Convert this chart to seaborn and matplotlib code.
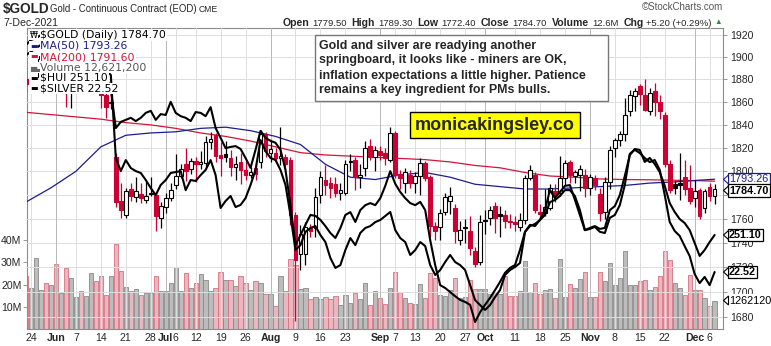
import numpy as np
import pandas as pd
import matplotlib
matplotlib.use("Agg")
import matplotlib.pyplot as plt
import seaborn as sns
from matplotlib.patches import Rectangle, Polygon
from matplotlib.ticker import FixedLocator, FixedFormatter, NullLocator

sns.set_style("white")
plt.rcParams['font.family'] = ['Liberation Sans', 'DejaVu Sans']

# ---------------- data ----------------
holidays = ["2021-05-31", "2021-07-05", "2021-09-06", "2021-11-25"]
dates = pd.bdate_range("2021-05-21", "2021-12-07")
dates = dates[~dates.isin(pd.to_datetime(holidays))]

opens = [1880, 1876, 1882, 1898, 1901, 1895, 1906, 1902, 1908, 1872, 1891, 1898, 1894, 1896, 1900, 1877, 1866, 1859,
         1812, 1775, 1763, 1785, 1778, 1781, 1776, 1782, 1780, 1761, 1770, 1777, 1788, 1796, 1806, 1802, 1809, 1806,
         1807, 1825, 1831, 1814, 1815, 1811, 1804, 1808, 1801, 1797, 1803, 1808, 1832, 1816, 1816, 1811, 1812, 1810,
         1763, 1731, 1731, 1752, 1752, 1780, 1793, 1790, 1789, 1782, 1782, 1809, 1810, 1795, 1803, 1822, 1812, 1817,
         1816, 1810, 1833, 1798, 1790, 1797, 1790, 1796, 1807, 1795, 1754, 1753, 1766, 1775, 1769, 1742, 1753, 1750,
         1733, 1724, 1759, 1761, 1771, 1764, 1763, 1758, 1757, 1753, 1759, 1794, 1797, 1766, 1765, 1769, 1783, 1782,
         1794, 1808, 1796, 1797, 1797, 1786, 1794, 1781, 1766, 1791, 1820, 1827, 1832, 1852, 1865, 1874, 1866, 1852,
         1870, 1860, 1849, 1806, 1789, 1790, 1795, 1786, 1777, 1784, 1769, 1787, 1779.5]
highs = [1890, 1889, 1900, 1913, 1903, 1910, 1919, 1915, 1912, 1895, 1902, 1904, 1903, 1903, 1902, 1880, 1870, 1862,
         1816, 1790, 1786, 1790, 1795, 1790, 1792, 1795, 1782, 1774, 1782, 1790, 1815, 1806, 1820, 1811, 1812, 1817,
         1830, 1834, 1833, 1825, 1826, 1818, 1813, 1816, 1810, 1804, 1808, 1836, 1834, 1826, 1820, 1838, 1815, 1812,
         1766, 1755, 1757, 1756, 1786, 1800, 1805, 1795, 1795, 1790, 1810, 1815, 1812, 1806, 1826, 1828, 1822, 1822,
         1820, 1838, 1835, 1801, 1803, 1801, 1799, 1811, 1809, 1797, 1757, 1768, 1782, 1787, 1772, 1758, 1760, 1762,
         1737, 1763, 1767, 1771, 1774, 1771, 1767, 1764, 1762, 1765, 1797, 1805, 1799, 1772, 1785, 1789, 1789, 1813,
         1810, 1810, 1801, 1805, 1802, 1798, 1797, 1786, 1795, 1822, 1829, 1835, 1864, 1871, 1872, 1876, 1880, 1872,
         1877, 1866, 1851, 1810, 1792, 1816, 1810, 1805, 1793, 1786, 1785, 1790, 1789.3]
lows = [1868, 1873, 1878, 1892, 1886, 1885, 1898, 1895, 1856, 1855, 1885, 1888, 1884, 1878, 1872, 1855, 1846, 1854,
        1770, 1761, 1761, 1775, 1774, 1773, 1773, 1779, 1750, 1752, 1765, 1775, 1785, 1794, 1792, 1798, 1791, 1802,
        1804, 1819, 1808, 1796, 1808, 1796, 1793, 1789, 1793, 1794, 1793, 1803, 1812, 1808, 1808, 1805, 1799, 1755,
        1677, 1718, 1722, 1745, 1745, 1773, 1780, 1777, 1778, 1776, 1780, 1800, 1784, 1786, 1796, 1810, 1800, 1810,
        1805, 1808, 1794, 1785, 1782, 1786, 1782, 1780, 1792, 1745, 1742, 1742, 1763, 1764, 1740, 1738, 1740, 1730,
        1720, 1722, 1747, 1755, 1748, 1745, 1752, 1752, 1750, 1750, 1756, 1793, 1765, 1760, 1762, 1767, 1774, 1779,
        1788, 1790, 1790, 1783, 1778, 1780, 1784, 1758, 1760, 1785, 1812, 1822, 1826, 1848, 1852, 1857, 1852, 1849,
        1848, 1845, 1804, 1782, 1781, 1776, 1780, 1772, 1770, 1760, 1765, 1775, 1772.4]
closes = [1876, 1882, 1898, 1901, 1895, 1903, 1902, 1908, 1872, 1891, 1898, 1894, 1896, 1900, 1877, 1866, 1856, 1860,
          1774, 1767, 1783, 1779, 1783, 1777, 1779, 1781, 1762, 1771, 1777, 1784, 1796, 1802, 1800, 1809, 1806, 1808,
          1825, 1828, 1813, 1811, 1812, 1804, 1806, 1801, 1797, 1799, 1798, 1832, 1817, 1819, 1811, 1813, 1806, 1763,
          1726, 1747, 1753, 1750, 1778, 1795, 1788, 1786, 1782, 1784, 1806, 1808, 1795, 1797, 1820, 1812, 1818, 1814,
          1811, 1833, 1797, 1794, 1799, 1790, 1796, 1807, 1794, 1754, 1750, 1765, 1778, 1779, 1750, 1751, 1752, 1736,
          1723, 1757, 1758, 1767, 1761, 1762, 1758, 1757, 1756, 1759, 1794, 1801, 1767, 1764, 1770, 1786, 1780, 1794,
          1807, 1797, 1799, 1802, 1786, 1795, 1788, 1765, 1791, 1818, 1827, 1832, 1849, 1866, 1870, 1867, 1853, 1868,
          1860, 1852, 1806, 1784, 1786, 1788, 1785, 1775, 1783, 1762, 1783, 1779.5, 1784.7]
volume_m = [23.6, 18.6, 31.8, 17.7, 20.9, 19.9, 29.0, 16.3, 27.6, 23.1, 14.4, 17.3, 14.9, 25.0, 21.8, 24.0, 15.4, 23.6,
            38.2, 25.9, 19.0, 17.3, 18.0, 15.4, 16.3, 16.3, 23.6, 17.3, 17.3, 20.9, 27.7, 17.3, 25.0, 18.6, 20.5, 24.5,
            22.2, 17.3, 18.6, 25.4, 22.2, 22.2, 19.5, 23.6, 20.5, 17.7, 21.4, 20.9, 15.9, 15.9, 10.5, 24.0, 17.3, 31.4,
            28.6, 18.0, 18.6, 13.6, 14.5, 13.6, 14.5, 13.6, 15.0, 10.9, 15.4, 11.8, 16.3, 13.6, 20.5, 10.9, 17.3, 14.0,
            11.4, 18.6, 25.4, 16.5, 13.8, 11.5, 11.4, 20.1, 14.1, 25.2, 22.7, 15.3, 14.8, 17.6, 22.7, 13.8, 14.4, 22.1,
            18.2, 17.9, 17.9, 15.6, 16.7, 15.6, 23.8, 14.8, 14.8, 17.0, 30.5, 16.5, 20.9, 15.6, 17.4, 17.9, 14.1, 31.5,
            14.4, 20.1, 18.6, 22.4, 25.7, 14.4, 14.4, 25.6, 21.8, 29.7, 20.0, 23.0, 35.1, 20.0, 20.0, 21.8, 22.0, 17.5,
            18.7, 23.7, 34.9, 30.9, 20.9, 18.5, 15.2, 24.3, 17.6, 17.4, 14.0, 10.5, 12.6212]
hui = [332.0, 334.1, 334.9, 336.2, 334.1, 332.0, 333.2, 334.1, 327.7, 329.8, 330.7, 329.0, 327.7, 329.8, 325.6, 323.4,
       321.3, 319.2, 283.9, 278.3, 283.0, 279.6, 278.3, 277.5, 274.5, 271.1, 268.1, 272.4, 274.5, 277.5, 277.9, 278.3,
       270.2, 274.5, 274.1, 276.6, 278.8, 283.0, 276.6, 262.6, 265.6, 267.7, 263.0, 263.9, 266.8, 272.4, 278.8, 291.5,
       286.8, 283.9, 283.0, 278.8, 272.4, 259.6, 244.7, 246.8, 252.4, 254.1, 254.9, 251.1, 248.1, 241.3, 237.1, 238.3,
       244.7, 249.8, 246.8, 252.0, 254.1, 254.9, 256.6, 257.5, 259.2, 260.9, 253.2, 249.8, 248.1, 242.6, 244.7, 248.1,
       246.4, 238.3, 234.1, 236.2, 239.6, 242.6, 239.6, 238.3, 236.2, 229.8, 223.4, 221.3, 219.2, 221.3, 224.7, 227.7,
       234.1, 236.2, 237.5, 239.2, 252.4, 254.9, 255.8, 257.5, 259.6, 265.1, 266.0, 267.7, 270.2, 270.2, 267.7, 261.7,
       253.2, 254.1, 254.9, 253.7, 254.1, 261.7, 263.4, 268.1, 276.2, 285.1, 287.7, 287.3, 282.2, 283.9, 281.3, 277.9,
       272.0, 264.7, 260.9, 257.9, 256.2, 253.2, 247.7, 242.2, 244.7, 248.1, 251.1]
silver = [27.81, 27.89, 27.98, 28.06, 27.93, 27.93, 27.89, 27.98, 27.57, 27.81, 27.93, 27.81, 27.74, 27.89, 27.69,
          27.50, 27.32, 26.96, 26.03, 26.18, 26.23, 26.28, 26.20, 26.28, 26.40, 26.45, 26.23, 26.37, 26.35, 26.67,
          26.40, 26.32, 26.28, 26.20, 26.42, 26.40, 26.32, 26.54, 26.03, 25.79, 25.54, 25.57, 25.59, 25.52, 25.30,
          25.06, 25.50, 25.96, 25.79, 25.72, 25.67, 25.50, 25.01, 24.15, 23.18, 23.42, 23.67, 23.91, 23.89, 23.79,
          23.64, 23.47, 23.35, 23.59, 23.91, 23.98, 23.74, 24.03, 24.15, 24.20, 24.15, 24.32, 24.62, 24.98, 24.67,
          24.47, 24.32, 24.20, 24.15, 24.23, 24.03, 23.30, 22.69, 22.20, 22.13, 22.03, 21.93, 21.84, 21.79, 21.72,
          21.30, 21.54, 21.72, 21.89, 22.08, 22.28, 22.50, 22.62, 22.69, 23.06, 23.50, 23.67, 23.64, 23.79, 24.03,
          24.52, 24.32, 24.47, 24.62, 24.64, 24.28, 23.91, 23.54, 23.57, 23.62, 23.50, 23.47, 23.84, 23.91, 24.15,
          24.64, 25.40, 25.50, 25.42, 25.30, 25.20, 25.25, 25.01, 24.40, 23.74, 23.52, 23.40, 23.15, 22.91, 22.47,
          22.25, 22.40, 22.20, 22.52]
ma_dates = ["2021-05-21", "2021-05-28", "2021-06-07", "2021-06-14", "2021-06-21", "2021-06-28", "2021-07-06",
            "2021-07-13", "2021-07-20", "2021-07-27", "2021-08-03", "2021-08-10", "2021-08-17", "2021-08-24",
            "2021-08-31", "2021-09-08", "2021-09-15", "2021-09-22", "2021-09-29", "2021-10-06", "2021-10-13",
            "2021-10-20", "2021-10-27", "2021-11-03", "2021-11-10", "2021-11-17", "2021-11-24", "2021-12-02",
            "2021-12-07"]
ma50 = [1774, 1786, 1800, 1821, 1831, 1833, 1834, 1837, 1838, 1835, 1830, 1823, 1806, 1795, 1793, 1797, 1799,
        1795, 1789, 1787, 1785, 1785, 1786, 1787, 1788, 1790, 1791, 1792.5, 1793.26]
ma200 = [1851, 1849, 1847, 1845, 1842, 1840, 1837, 1833, 1830, 1826, 1821, 1816, 1814, 1813, 1812, 1811, 1810,
         1808, 1805, 1803, 1799, 1796, 1795, 1793.5, 1793, 1792.8, 1792.4, 1792, 1791.6]

tick_dates = ["2021-05-24", "2021-06-01", "2021-06-07", "2021-06-14", "2021-06-21", "2021-06-28", "2021-07-01",
              "2021-07-06", "2021-07-12", "2021-07-19", "2021-07-26", "2021-08-02", "2021-08-09", "2021-08-16",
              "2021-08-23", "2021-09-01", "2021-09-07", "2021-09-13", "2021-09-20", "2021-09-27", "2021-10-01",
              "2021-10-11", "2021-10-18", "2021-10-25", "2021-11-01", "2021-11-08", "2021-11-15", "2021-11-22",
              "2021-12-01", "2021-12-06"]
tick_labels = ["24", "Jun", "7", "14", "21", "28", "Jul", "6", "12", "19", "26", "Aug", "9", "16", "23", "Sep",
               "7", "13", "20", "27", "Oct", "11", "18", "25", "Nov", "8", "15", "22", "Dec", "6"]
price_ticks = [1680, 1700, 1720, 1740, 1760, 1780, 1800, 1820, 1840, 1860, 1880, 1900, 1920]
vol_ticks_m = [10, 20, 30, 40]

note_lines = ["Gold and silver are readying another",
              "springboard, it looks like - miners are OK,",
              "inflation expectations a little higher. Patience",
              "remains a key ingredient for PMs bulls."]
site = "monicakingsley.co"

# ---------------- figure ----------------
W, H = 771, 346
RED = "#cc0033"
NAVY = "#1c1c8e"
MARED = "#d4143c"
fig = plt.figure(figsize=(W / 100, H / 100), dpi=100)
fig.patch.set_facecolor("white")


def fx(x):
    return x / W


def fy(y):
    return 1 - y / H


n = len(dates)
pos = np.arange(n)
O, Hh, L, C = map(np.array, (opens, highs, lows, closes))
prev = np.r_[O[0], C[:-1]]
up = C >= prev
col = np.where(up, "#000000", RED)
hollow = C > O

axv = fig.add_axes([fx(27), fy(329), (723 - 27) / W, (329 - 28) / H])
axv.set_xlim(0.2, 139.68)
axv.set_ylim(0, 135.3e6)
vol = np.array(volume_m) * 1e6
vfill = np.where(up, "#bcbcbc", "#e9b7c0")
vedge = np.where(up, "#8a8a8a", "#d9707f")
axv.bar(pos, vol, width=0.86, color=vfill, edgecolor=vedge, linewidth=0.6, zorder=2)
axv.set_yticks([v * 1e6 for v in vol_ticks_m])
axv.set_yticklabels([f"{v}M" for v in vol_ticks_m], fontsize=7.6)
axv.tick_params(axis="y", length=3, width=0.6, pad=1, color="#888888")
tpos = dates.get_indexer(pd.to_datetime(tick_dates))
axv.set_xticks(tpos)
axv.set_xticklabels(tick_labels, fontsize=7.6)
for lab in axv.get_xticklabels():
    if lab.get_text().isalpha():
        lab.set_fontweight("bold")
axv.tick_params(axis="x", length=0, pad=3)
for s in axv.spines.values():
    s.set_color("#8c8c8c")
    s.set_linewidth(0.8)

# price axis (the 1780 label sits under the last-close tag, as in the reference)
axp = axv.twinx()
axp.set_yscale("log")
axp.set_ylim(1670.5, 1926.4)
axp.yaxis.set_major_locator(FixedLocator(price_ticks))
axp.yaxis.set_major_formatter(FixedFormatter(["" if t == 1780 else str(t) for t in price_ticks]))
axp.yaxis.set_minor_locator(NullLocator())
axp.tick_params(axis="y", length=3, width=0.6, pad=2, labelsize=7.6, color="#888888")
for s in axp.spines.values():
    s.set_visible(False)
for t in price_ticks:
    axp.axhline(t, color="#dedede", lw=0.7, zorder=0)
month_starts = {"Jun", "Jul", "Aug", "Sep", "Oct", "Nov", "Dec"}
for p, lab in zip(tpos, tick_labels):
    axp.axvline(p, color="#b8b8b8" if lab in month_starts else "#dedede", lw=0.7, zorder=0)

ma_pos = dates.get_indexer(pd.to_datetime(ma_dates))
ma_df = pd.DataFrame({"x": ma_pos, "ma50": ma50, "ma200": ma200})
sns.lineplot(data=ma_df, x="x", y="ma200", ax=axp, color=MARED, linewidth=0.9, errorbar=None, legend=False, zorder=2)
sns.lineplot(data=ma_df, x="x", y="ma50", ax=axp, color=NAVY, linewidth=0.9, errorbar=None, legend=False, zorder=2)

# candles
axp.vlines(pos, L, Hh, colors=col, linewidth=0.9, zorder=3)
body_lo = np.minimum(O, C)
body_h = np.maximum(np.abs(C - O), 0.8)
axp.bar(pos, body_h, bottom=body_lo, width=0.74, color=np.where(hollow, "white", col),
        edgecolor=col, linewidth=0.8, zorder=4)
axp.set_xlabel("")
axp.set_ylabel("")

# HUI and SILVER overlays on their own scales
axh = axv.twinx()
axh.set_ylim(211.1, 339.2)
axh.axis("off")
axs = axv.twinx()
axs.set_ylim(21.13, 28.47)
axs.axis("off")
ov = pd.DataFrame({"x": pos, "hui": hui, "silver": silver})
sns.lineplot(data=ov, x="x", y="hui", ax=axh, color="black", linewidth=1.5, errorbar=None, legend=False)
sns.lineplot(data=ov, x="x", y="silver", ax=axs, color="black", linewidth=1.5, errorbar=None, legend=False)
for a in (axh, axs):
    a.set_xlim(0.2, 139.68)
axv.set_xlabel("")
axv.set_ylabel("")

# ---------------- header ----------------
fig.text(fx(3), fy(9), "$GOLD", fontsize=9.8, fontweight="bold", va="center", ha="left")
fig.text(fx(50), fy(9), "Gold - Continuous Contract (EOD)", fontsize=6.9, va="center", ha="left")
fig.text(fx(199), fy(9.5), "CME", fontsize=6.2, va="center", ha="left")
fig.text(fx(3), fy(23), dates[-1].strftime("%-d-%b-%Y"), fontsize=7.6, va="center", ha="left")
fig.text(fx(723), fy(6.5), "\u00a9StockCharts.com", fontsize=7, color="#555555", va="center", ha="right")
chg = C[-1] - C[-2]
pieces = [("Open", True), (f"{O[-1]:.2f}", False), ("High", True), (f"{Hh[-1]:.2f}", False),
          ("Low", True), (f"{L[-1]:.2f}", False), ("Close", True), (f"{C[-1]:.2f}", False),
          ("Volume", True), (f"{volume_m[-1]:.1f}M", False), ("Chg", True),
          (f"{chg:+.2f} ({chg / C[-2] * 100:+.2f}%)", False)]
renderer = fig.canvas.get_renderer()
objs = []
for txt, b in pieces:
    t = fig.text(0, fy(23), txt, fontsize=7.6 if b else 6.8, fontweight="bold" if b else "normal",
                 va="center", ha="left")
    objs.append((t, t.get_window_extent(renderer).width, b))
total = sum(w for _, w, _ in objs) + sum(3 if b else 5 for _, _, b in objs[:-1])
x = 712 - total
for t, w, b in objs:
    t.set_x(fx(x))
    x += w + (3 if b else 5)
fig.text(fx(718), fy(22), "\u25b2", fontsize=5.5, color="#2e8b3a", va="center", ha="center")

# ---------------- legend rows ----------------
leg_font = dict(fontsize=7.8, va="center", ha="left", family=["DejaVu Sans"])
bb = dict(facecolor="white", edgecolor="none", pad=0.4)
rows = [
    ("\u20a9", "black", f"$GOLD (Daily) {C[-1]:.2f}", "black", 35),
    ("\u25ac", NAVY, f"MA(50) {ma50[-1]:.2f}", NAVY, 46),
    ("\u25ac", MARED, f"MA(200) {ma200[-1]:.2f}", MARED, 57),
    ("\u2585\u2583", "#666666", f"Volume {int(round(volume_m[-1] * 1e6)):,}", "#555555", 67.5),
    ("\u25ac", "black", f"$HUI {hui[-1]:.2f}", "black", 78),
    ("\u25ac", "black", f"$SILVER {silver[-1]:.2f}", "black", 88.5),
]
for icon, icol, txt, tcol, y in rows:
    fig.text(fx(30), fy(y), icon, color=icol, bbox=bb, **{**leg_font, "fontsize": 5.8})
    fig.text(fx(40.5), fy(y), txt, color=tcol, bbox=bb, **leg_font)

# ---------------- note box ----------------
fig.patches.append(Rectangle((fx(315), fy(101)), (608 - 315) / W, (101 - 35) / H, transform=fig.transFigure,
                             facecolor="white", edgecolor="#777777", linewidth=1.0, zorder=5))
for k, line in enumerate(note_lines):
    fig.text(fx(319), fy(45.5 + k * 15), line, fontsize=8.9, fontweight="bold", va="center", ha="left", zorder=6)
fig.patches.append(Rectangle((fx(410), fy(138)), (580 - 410) / W, (138 - 112) / H, transform=fig.transFigure,
                             facecolor="#ffff00", edgecolor="black", linewidth=1.0, zorder=5))
fig.text(fx(495), fy(125), site, fontsize=13, fontweight="bold", va="center", ha="center", zorder=6)

# ---------------- right value tags ----------------
tags = [(f"{ma50[-1]:.2f}", 179.5, NAVY, NAVY, "normal"),
        (f"{C[-1]:.2f}", 190.5, "black", "black", "bold"),
        (f"{hui[-1]:.2f}", 235, "black", "black", "bold"),
        (f"{silver[-1]:.2f}", 272, "black", "black", "bold"),
        (str(int(round(volume_m[-1] * 1e6)))[:7], 300.5, "black", None, "normal")]
for txt, y, tc, ec, fw in tags:
    fig.text(fx(729), fy(y), txt, fontsize=7.8, color=tc, fontweight=fw, va="center", ha="left", zorder=8,
             bbox=dict(facecolor="white", edgecolor=ec if ec else "white", linewidth=0.9,
                       boxstyle="square,pad=0.12"))
    fig.patches.append(Polygon([(fx(723.5), fy(y)), (fx(728.5), fy(y - 4.5)), (fx(728.5), fy(y + 4.5))],
                               closed=True, transform=fig.transFigure, facecolor="white",
                               edgecolor=ec if ec else "black", linewidth=0.8, zorder=9))

fig.savefig("out.png", dpi=100)
